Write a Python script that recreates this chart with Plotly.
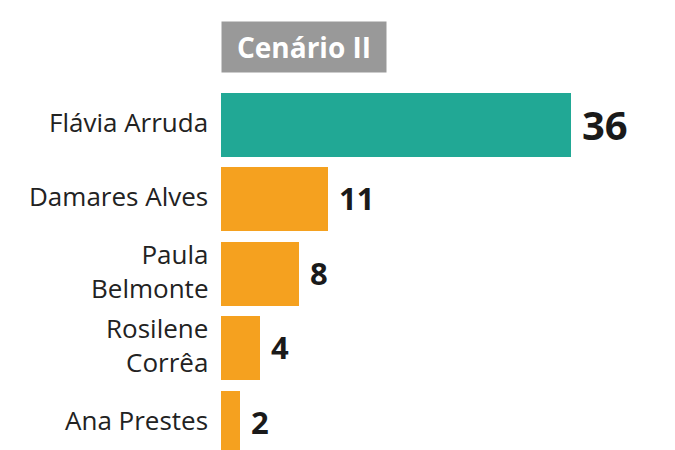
import plotly.graph_objects as go

names = ["Flávia Arruda", "Damares Alves", "Paula<br>Belmonte", "Rosilene<br>Corrêa", "Ana Prestes"]
values = [36, 11, 8, 4, 2]
colors = ["#21A895", "#F5A11F", "#F5A11F", "#F5A11F", "#F5A11F"]
title = "Cenário II"

ypos = list(range(len(names)))

fig = go.Figure()
fig.add_trace(go.Bar(
    x=values, y=ypos, orientation="h", marker=dict(color=colors, line=dict(width=0)),
    width=0.86, hoverinfo="skip"
))

font_fam = "Open Sans"
label_size = 26
anns = []
for i, (n, v) in enumerate(zip(names, values)):
    anns.append(dict(x=0, y=i, xref="x", yref="y", text=n, showarrow=False,
                     xanchor="right", yanchor="middle", align="right", xshift=-11,
                     yshift=3,
                     font=dict(family=font_fam, size=label_size, color="#222222")))
    anns.append(dict(x=v, y=i, xref="x", yref="y", text="<b>%d</b>" % v, showarrow=False,
                     xanchor="left", yanchor="middle", xshift=9, yshift=1,
                     font=dict(family=font_fam, size=40 if i == 0 else 31, color="#1a1a1a")))

anns.append(dict(x=0, y=-1.048, xref="x", yref="y", text="<b>" + title + "</b>", showarrow=False,
                 xanchor="left", yanchor="middle", bgcolor="#999999", borderpad=0,
                 width=164, height=50, align="center", valign="middle",
                 font=dict(family=font_fam, size=28, color="white")))

fig.update_layout(
    width=667, height=442, margin=dict(l=213, r=0, t=0, b=0),
    paper_bgcolor="white", plot_bgcolor="white", showlegend=False,
    xaxis=dict(range=[0, 46.7], visible=False, showgrid=False, zeroline=False),
    yaxis=dict(range=[4.368, -1.573], visible=False, showgrid=False, zeroline=False),
    annotations=anns, bargap=0,
)
fig.write_html("out.html")
